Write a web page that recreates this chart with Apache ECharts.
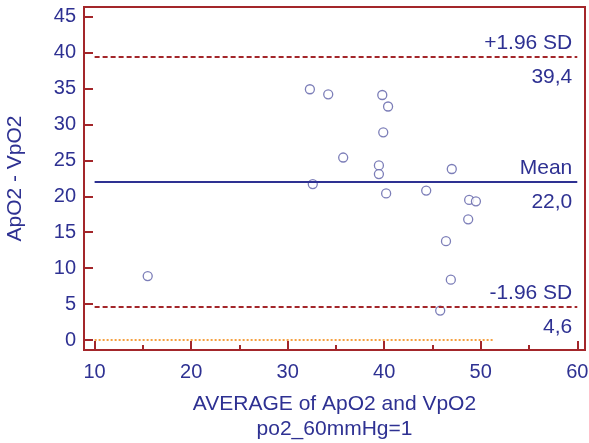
<!DOCTYPE html>
<html>
<head>
<meta charset="utf-8">
<script src="https://cdn.jsdelivr.net/npm/echarts@6/dist/echarts.min.js"></script>
<style>
  html, body { margin: 0; padding: 0; background: #fff; }
  #chart { width: 589px; height: 443px; }
</style>
</head>
<body>
<div id="chart"></div>
<script>
// averages (x) and differences (y) of ApO2 / VpO2
const avgValues = [15.5, 32.3, 34.2, 39.8, 40.4, 39.9, 35.75, 39.45, 39.45, 32.6, 40.2, 44.35, 47.0, 48.8, 49.5, 48.7, 46.4, 46.9, 45.8]
const diffValues = [8.9, 34.9, 34.2, 34.1, 32.5, 28.9, 25.4, 24.3, 23.1, 21.7, 20.4, 20.8, 23.8, 19.5, 19.3, 16.8, 13.75, 8.4, 4.1]

const meanDiff = 22.0
const upperLimit = 39.4
const lowerLimit = 4.6
const zeroLineEnd = 51.3

const xTicks = [10, 20, 30, 40, 50, 60]
const xMinorTicks = [15, 25, 35, 45, 55]
const yTicks = [0, 5, 10, 15, 20, 25, 30, 35, 40, 45]

const RED = '#a3262a'
const BLUE = '#2e3192'
const FONT = '"Liberation Sans", Arial, sans-serif'

const chart = echarts.init(document.getElementById('chart'))

// reference line with one label above and one below it
function refLine(y, top, bottom, style) {
  return [
    [
      {
        coord: [10, y],
        lineStyle: style,
        label: { show: true, formatter: top, position: 'insideEndTop', distance: [5, 3] },
      },
      { coord: [60, y] },
    ],
    [
      {
        coord: [10, y],
        lineStyle: { width: 0, color: 'rgba(0,0,0,0)' },
        label: { show: true, formatter: bottom, position: 'insideEndBottom', distance: [5, 10] },
      },
      { coord: [60, y] },
    ],
  ]
}

const dashed = { color: RED, type: [5, 3], width: 2 }

chart.setOption({
  animation: false,
  textStyle: { fontFamily: FONT },
  grid: {
    left: 84, right: 4, top: 7, bottom: 93,
    outerBoundsMode: 'none',
    containLabel: false,
    show: true, borderColor: RED, borderWidth: 2,
  },
  xAxis: [
    {
      type: 'value', min: 8.9, max: 60.8,
      name: 'AVERAGE of ApO2 and VpO2\npo2_60mmHg=1',
      nameLocation: 'middle', nameGap: 42,
      nameTextStyle: { color: BLUE, fontSize: 21, lineHeight: 25, fontFamily: FONT },
      axisLine: { show: true, onZero: false, lineStyle: { color: RED, width: 2 } },
      axisTick: { show: true, inside: true, length: 9, customValues: xTicks, lineStyle: { color: RED, width: 2 } },
      axisLabel: { customValues: xTicks, color: BLUE, fontSize: 20, margin: 12, fontFamily: FONT },
      splitLine: { show: false },
    },
    {
      type: 'value', min: 8.9, max: 60.8, position: 'bottom',
      axisLine: { show: false, onZero: false },
      axisTick: { show: true, inside: true, length: 5, customValues: xMinorTicks, lineStyle: { color: RED, width: 2 } },
      axisLabel: { show: false },
      splitLine: { show: false },
    },
  ],
  yAxis: {
    type: 'value', min: -1.39, max: 46.35,
    name: 'ApO2 - VpO2',
    nameLocation: 'middle', nameGap: 58,
    nameTextStyle: { color: BLUE, fontSize: 21, fontFamily: FONT },
    axisLine: { show: true, onZero: false, lineStyle: { color: RED, width: 2 } },
    axisTick: { show: true, inside: true, length: 9, customValues: yTicks, lineStyle: { color: RED, width: 2 } },
    axisLabel: { customValues: yTicks, color: BLUE, fontSize: 20, margin: 8, fontFamily: FONT },
    splitLine: { show: false },
  },
  series: [
    {
      type: 'scatter',
      data: avgValues.map((x, i) => [x, diffValues[i]]),
      symbol: 'circle',
      symbolSize: 9,
      itemStyle: { color: '#fff', borderColor: '#5b5ea6', borderWidth: 1.3 },
      markLine: {
        silent: true,
        symbol: 'none',
        label: { color: BLUE, fontSize: 21, fontFamily: FONT },
        data: [
          [
            { coord: [10, 0], lineStyle: { color: '#f5a040', type: [2, 2], width: 2 }, label: { show: false } },
            { coord: [zeroLineEnd, 0] },
          ],
          ...refLine(upperLimit, '+1.96 SD', '39,4', dashed),
          ...refLine(meanDiff, 'Mean', '22,0', { color: BLUE, type: 'solid', width: 2 }),
          ...refLine(lowerLimit, '-1.96 SD', '4,6', dashed),
        ],
      },
    },
  ],
})
</script>
</body>
</html>
